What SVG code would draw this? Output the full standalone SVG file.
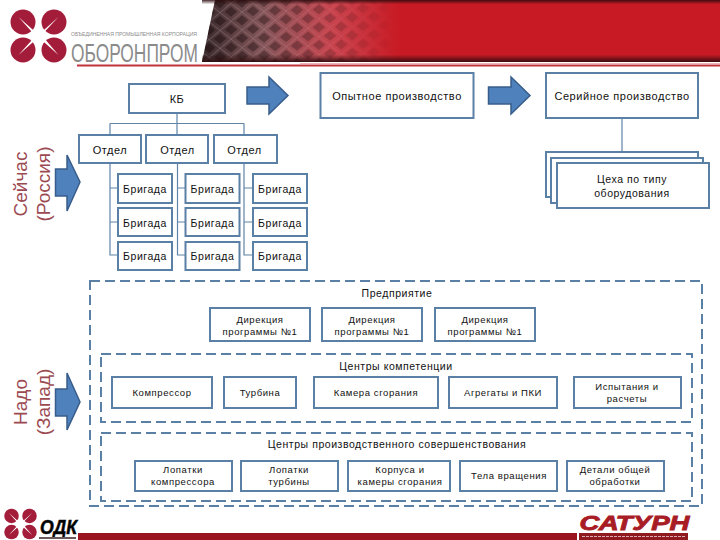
<svg xmlns="http://www.w3.org/2000/svg" width="720" height="540" viewBox="0 0 720 540">
<style>
text{font-family:"Liberation Sans",Arial,sans-serif;fill:#111;text-anchor:middle}
.b{fill:#fff;stroke:#5b80a6;stroke-width:2}
.c{fill:none;stroke:#5f84a8;stroke-width:1.2}
.d{fill:none;stroke:#5b80a6;stroke-width:2;stroke-dasharray:10 5}
.a{fill:#4f81bd;stroke:#385d8a;stroke-width:1.5}
.t{font-size:10.5px;letter-spacing:.55px}
.s{font-size:9.5px;letter-spacing:.6px}
.m{font-size:11px;letter-spacing:.55px}
.v{font-size:19px;fill:#9c4a52}
.p{fill:#a31c3a}
</style>
<defs>
<linearGradient id="hg" x1="205" x2="400" y1="0" y2="0" gradientUnits="userSpaceOnUse">
<stop offset="0" stop-color="#3b2c2e"/><stop offset=".3" stop-color="#84565a"/><stop offset=".65" stop-color="#c8444e"/><stop offset="1" stop-color="#c81a24"/>
</linearGradient>
<linearGradient id="hv" x1="0" x2="0" y1="0" y2="1">
<stop offset="0" stop-color="#2a0a0c" stop-opacity=".85"/><stop offset=".07" stop-color="#2a0a0c" stop-opacity="0"/><stop offset=".88" stop-color="#2a0a0c" stop-opacity="0"/><stop offset="1" stop-color="#2a0a0c" stop-opacity=".9"/>
</linearGradient>
<linearGradient id="fade" x1="205" x2="395" y1="0" y2="0" gradientUnits="userSpaceOnUse">
<stop offset="0" stop-color="#ddd"/><stop offset=".55" stop-color="#777"/><stop offset="1" stop-color="#000"/>
</linearGradient>
<mask id="mk"><rect x="200" y="0" width="200" height="62" fill="url(#fade)"/></mask>
<pattern id="mesh" width="14" height="14" patternUnits="userSpaceOnUse" patternTransform="rotate(38) skewX(-12)">
<rect x="3" y="3" width="8" height="8" fill="#1d0c0e" opacity=".6"/>
<path d="M0 0H14M0 0V14" stroke="#f0d6d8" stroke-width=".8" opacity=".55"/>
</pattern>
<g id="star">
<circle cx="-15.500" cy="-14" r="12.500" class="p"/><circle cx="15.500" cy="-14" r="12.500" class="p"/>
<circle cx="-15.500" cy="14" r="12.500" class="p"/><circle cx="15.500" cy="14" r="12.500" class="p"/>
<path d="M-20 -19L-2 -3L0 0L2 -3L20 -19L3 -1L20 19L2 3L0 1L-2 3L-20 19L-3 0Z" fill="#fff"/>
</g>
</defs>

<g id="header">
<path d="M215 0H720V62H202Z" fill="url(#hg)"/>
<path d="M215 0H400V62H202Z" fill="url(#mesh)" mask="url(#mk)"/>
<rect x="202" y="0" width="518" height="62" fill="url(#hv)"/>
<rect x="77" y="64.500" width="643" height="2" fill="#c2343c"/>
<rect x="300" y="63" width="420" height="1" fill="#eeb4b6"/>
<use href="#star" x="38.500" y="36"/>
<text x="134" y="36" font-size="5.500" textLength="126" lengthAdjust="spacingAndGlyphs" style="fill:#8c8c8c">ОБЪЕДИНЕННАЯ ПРОМЫШЛЕННАЯ КОРПОРАЦИЯ</text>
<text x="134.500" y="61.500" font-size="26" textLength="127" lengthAdjust="spacingAndGlyphs" style="fill:#8b8b8b">ОБОРОНПРОМ</text>
</g>

<g id="footer">
<rect x="78" y="533" width="499" height="7" fill="#9b1520"/>
<use href="#star" transform="translate(20.500,524) scale(.58)"/>
<text x="58.500" y="534" font-size="21" textLength="37" lengthAdjust="spacingAndGlyphs" style="font-weight:bold;font-style:italic;stroke:#111;stroke-width:.6;fill:#000">ОДК</text>
<rect x="39" y="537" width="37" height="2" fill="#6a5a5a"/>
<text x="634.500" y="530" font-size="21" textLength="110" lengthAdjust="spacingAndGlyphs" style="font-weight:bold;font-style:italic;fill:#a81c25;stroke:#a81c25;stroke-width:.9">САТУРН</text>
<rect x="579" y="533" width="109" height="7" fill="#8f1a20"/>
<path d="M582 536.500H685" stroke="#d9b0b2" stroke-width="1" stroke-dasharray="3 1"/>
</g>

<g id="connectors">
<path class="c" d="M177 113V135M110 123.500H244M110 123.500V135M244 123.500V135"/>
<path class="c" d="M110 163V255H118M110 188H118M110 222H118"/>
<path class="c" d="M177.500 163V255H185M177.500 188H185M177.500 222H185"/>
<path class="c" d="M244 163V255H253M244 188H253M244 222H253"/>
<path class="c" d="M622 118V152"/>
</g>

<g id="arrows">
<path class="a" d="M247 87H269V77L288 95.500L269 114V104H247Z"/>
<path class="a" d="M488.500 87H511V77L530 95.500L511 114V104H488.500Z"/>
<path class="a" d="M55.500 169H67V155L80 182L67 211V196H55.500Z"/>
<path class="a" d="M55.500 389H67V373L80 402L67 430V416H55.500Z"/>
</g>

<g id="side-labels">
<text class="v" transform="translate(27,184) rotate(-90)">Сейчас</text>
<text class="v" transform="translate(50,184) rotate(-90)">(Россия)</text>
<text class="v" transform="translate(27,402) rotate(-90)">Надо</text>
<text class="v" transform="translate(50,402) rotate(-90)">(Запад)</text>
</g>

<g id="kb"><rect class="b" x="129" y="84" width="96" height="29"/><text class="m" x="177" y="103">КБ</text></g>
<g id="opytnoe"><rect class="b" x="320.500" y="73" width="153" height="45"/><text class="m" x="397" y="100">Опытное производство</text></g>
<g id="seriynoe"><rect class="b" x="546" y="73" width="152" height="45"/><text class="m" x="622" y="100">Серийное производство</text></g>

<g id="otdel-1"><rect class="b" x="79" y="135" width="62" height="28"/><text class="m" x="110" y="154">Отдел</text></g>
<g id="otdel-2"><rect class="b" x="146" y="135" width="62" height="28"/><text class="m" x="177.500" y="154">Отдел</text></g>
<g id="otdel-3"><rect class="b" x="214" y="135" width="63" height="28"/><text class="m" x="244.500" y="154">Отдел</text></g>

<g id="br-1-1"><rect class="b" x="118" y="174" width="54" height="29"/><text class="t" x="145" y="193">Бригада</text></g>
<g id="br-2-1"><rect class="b" x="185.500" y="174" width="54" height="29"/><text class="t" x="212.500" y="193">Бригада</text></g>
<g id="br-3-1"><rect class="b" x="253" y="174" width="54" height="29"/><text class="t" x="280" y="193">Бригада</text></g>
<g id="br-1-2"><rect class="b" x="118" y="208" width="54" height="28"/><text class="t" x="145" y="227">Бригада</text></g>
<g id="br-2-2"><rect class="b" x="185.500" y="208" width="54" height="28"/><text class="t" x="212.500" y="227">Бригада</text></g>
<g id="br-3-2"><rect class="b" x="253" y="208" width="54" height="28"/><text class="t" x="280" y="227">Бригада</text></g>
<g id="br-1-3"><rect class="b" x="118" y="242" width="54" height="28"/><text class="t" x="145" y="260">Бригада</text></g>
<g id="br-2-3"><rect class="b" x="185.500" y="242" width="54" height="28"/><text class="t" x="212.500" y="260">Бригада</text></g>
<g id="br-3-3"><rect class="b" x="253" y="242" width="54" height="28"/><text class="t" x="280" y="260">Бригада</text></g>

<g id="cekha">
<rect class="b" x="546" y="152" width="152" height="45"/>
<rect class="b" x="551" y="158" width="152" height="45"/>
<rect class="b" x="557" y="163" width="152" height="45"/>
<text class="t" x="632" y="183">Цеха по типу</text>
<text class="t" x="632" y="197">оборудования</text>
</g>

<g id="predpriyatie"><rect class="d" x="90" y="281" width="612" height="225"/><text class="t" x="397" y="297">Предприятие</text></g>

<g id="dir-1"><rect class="b" x="210" y="308" width="100" height="33"/><text class="s" x="260" y="323">Дирекция</text><text class="s" x="260" y="335">программы №1</text></g>
<g id="dir-2"><rect class="b" x="322" y="308" width="100" height="33"/><text class="s" x="372" y="323">Дирекция</text><text class="s" x="372" y="335">программы №1</text></g>
<g id="dir-3"><rect class="b" x="435" y="308" width="100" height="33"/><text class="s" x="485" y="323">Дирекция</text><text class="s" x="485" y="335">программы №1</text></g>

<g id="centers-comp"><rect class="d" x="101" y="354" width="591" height="68"/><text class="t" x="396" y="370">Центры компетенции</text></g>
<g id="kompressor"><rect class="b" x="112" y="377" width="100" height="31"/><text class="s" x="162" y="396">Компрессор</text></g>
<g id="turbina"><rect class="b" x="224" y="377" width="72" height="31"/><text class="s" x="260" y="396">Турбина</text></g>
<g id="kamera"><rect class="b" x="314" y="377" width="124" height="31"/><text class="s" x="376" y="396">Камера сгорания</text></g>
<g id="agregaty"><rect class="b" x="449" y="377" width="108" height="31"/><text class="s" x="503" y="396">Агрегаты и ПКИ</text></g>
<g id="ispytaniya"><rect class="b" x="574" y="377" width="107" height="31"/><text class="s" x="627" y="390">Испытания и</text><text class="s" x="627" y="402">расчеты</text></g>

<g id="centers-prod"><rect class="d" x="101" y="433" width="591" height="68"/><text class="t" x="397" y="448">Центры производственного совершенствования</text></g>
<g id="lop-komp"><rect class="b" x="135" y="461" width="97" height="30"/><text class="s" x="183" y="473">Лопатки</text><text class="s" x="183" y="485">компрессора</text></g>
<g id="lop-turb"><rect class="b" x="241" y="461" width="97" height="30"/><text class="s" x="289" y="473">Лопатки</text><text class="s" x="289" y="485">турбины</text></g>
<g id="korpusa"><rect class="b" x="348" y="461" width="102" height="30"/><text class="s" x="400" y="473">Корпуса и</text><text class="s" x="400" y="485">камеры сгорания</text></g>
<g id="tela"><rect class="b" x="460" y="461" width="97" height="30"/><text class="s" x="509" y="479">Тела вращения</text></g>
<g id="detali"><rect class="b" x="567" y="461" width="97" height="30"/><text class="s" x="615" y="473">Детали общей</text><text class="s" x="615" y="485">обработки</text></g>
</svg>
